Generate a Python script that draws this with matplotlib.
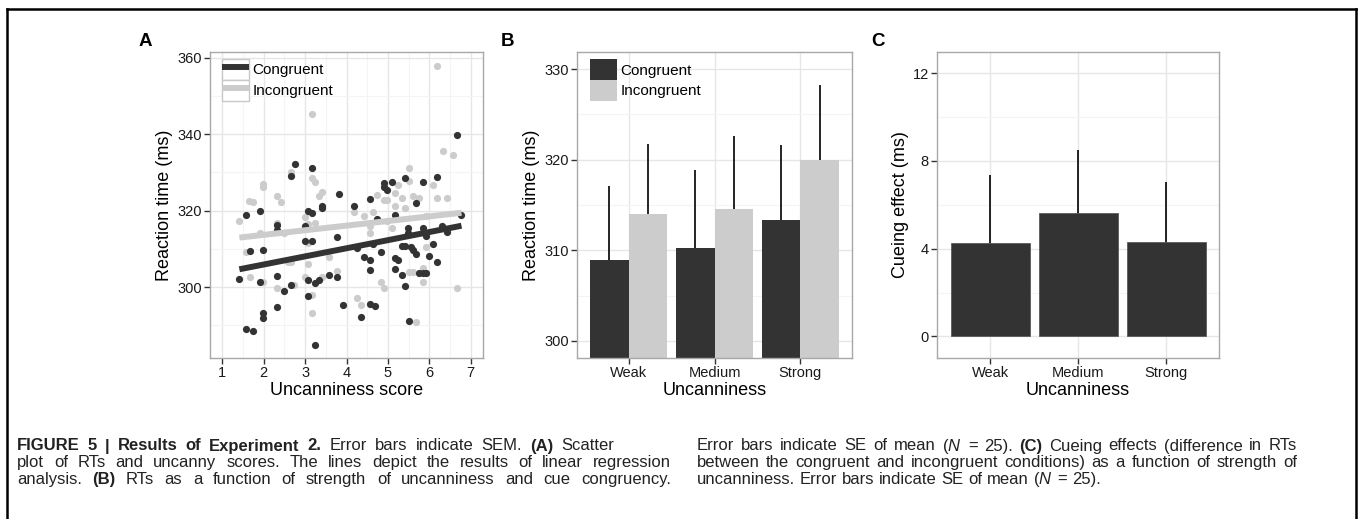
import numpy as np
import matplotlib.pyplot as plt
from matplotlib.patches import Rectangle
from matplotlib.lines import Line2D

plt.rcParams['font.family'] = ['Liberation Sans', 'DejaVu Sans']
plt.rcParams['mathtext.fontset'] = 'custom'
plt.rcParams['mathtext.rm'] = 'Liberation Sans'
plt.rcParams['mathtext.bf'] = 'Liberation Sans:bold'
plt.rcParams['mathtext.it'] = 'Liberation Sans:italic'

# ---------------------------------------------------------------------------
# Data
# ---------------------------------------------------------------------------
# Panel A: uncanniness score vs reaction time
cong_x = [1.41, 1.57, 1.57, 1.75, 1.67, 1.91, 1.91, 1.99, 1.99, 1.99,
          2.33, 2.33, 2.33, 2.33, 2.50, 2.65, 2.67, 2.75, 2.99, 2.99,
          3.08, 3.17, 3.17, 3.08, 3.08, 3.17, 3.24, 3.33, 3.25, 3.41,
          3.41, 3.58, 3.76, 3.76, 3.83, 3.92, 4.17, 4.25, 4.34, 4.42,
          4.58, 4.58, 4.58, 4.58, 4.68, 4.65, 4.74, 4.83, 4.91, 4.91,
          4.99, 5.11, 5.17, 5.17, 5.25, 5.17, 5.33, 5.33, 5.42, 5.42,
          5.42, 5.49, 5.49, 5.57, 5.60, 5.50, 5.67, 5.67, 5.76, 5.84,
          5.84, 5.84, 5.93, 5.92, 6.00, 6.10, 6.18, 6.18, 6.32, 6.42,
          6.66, 6.78]
cong_y = [302.2, 318.8, 289.2, 288.6, 309.6, 319.9, 301.3, 309.8, 293.2, 291.9,
          294.9, 303.0, 316.2, 314.9, 299.1, 300.6, 329.1, 332.3, 315.9, 312.0,
          320.0, 319.5, 312.0, 301.8, 297.6, 331.1, 301.2, 301.9, 284.9, 321.3,
          320.8, 303.2, 313.1, 302.6, 324.3, 295.4, 321.3, 310.2, 292.2, 308.0,
          323.1, 304.5, 307.1, 295.7, 295.1, 311.3, 317.8, 309.1, 327.2, 326.3,
          325.4, 327.5, 319.0, 307.6, 307.0, 304.7, 303.1, 310.9, 310.9, 300.3,
          328.6, 315.5, 314.1, 310.6, 309.8, 291.3, 322.1, 308.6, 303.7, 327.4,
          315.4, 303.7, 303.7, 313.4, 308.2, 311.3, 328.9, 306.7, 315.9, 314.5,
          339.8, 318.9]

incong_x = [1.41, 1.57, 1.65, 1.75, 1.67, 1.91, 1.99, 1.99, 1.99, 2.33,
            2.33, 2.41, 2.33, 2.50, 2.65, 2.67, 2.73, 2.58, 2.67, 2.99,
            2.99, 3.08, 3.08, 3.08, 3.17, 3.17, 3.25, 3.25, 3.33, 3.41,
            3.17, 3.17, 3.41, 3.58, 3.76, 4.25, 4.34, 4.17, 4.42, 4.58,
            4.58, 4.65, 4.74, 4.83, 4.91, 4.91, 4.99, 4.99, 5.09, 5.17,
            5.17, 5.25, 5.33, 5.42, 5.50, 5.50, 5.50, 5.60, 5.60, 5.76,
            5.68, 5.84, 5.84, 5.92, 5.92, 6.10, 6.18, 6.42, 6.18, 6.34,
            6.58, 6.66]
incong_y = [317.4, 309.2, 322.6, 322.4, 302.6, 314.1, 327.0, 326.3, 301.5, 323.8,
            316.7, 322.3, 299.7, 314.3, 330.0, 329.4, 300.6, 306.7, 306.7, 318.3,
            302.6, 316.6, 306.2, 311.5, 345.4, 328.5, 327.4, 316.7, 323.9, 324.9,
            298.0, 293.2, 302.8, 308.0, 304.3, 297.2, 295.4, 319.8, 318.5, 315.9,
            314.1, 319.8, 324.1, 301.5, 299.9, 322.8, 322.8, 317.2, 315.4, 324.6,
            321.3, 326.6, 323.3, 320.8, 331.3, 327.8, 304.1, 304.1, 323.9, 323.3,
            290.8, 301.5, 305.0, 318.5, 310.6, 326.7, 323.2, 323.2, 357.9, 335.5,
            334.6, 299.9]

# Panels B and C
levels = ['Weak', 'Medium', 'Strong']
rt_cong = [308.9, 310.3, 313.3]
rt_cong_se = [8.2, 8.6, 8.3]
rt_incong = [314.0, 314.6, 320.0]
rt_incong_se = [7.7, 8.0, 8.2]
cue_effect = [4.24, 5.62, 4.30]
cue_effect_se = [3.13, 2.89, 2.75]

# Caption text; words starting with '*' are set in bold
caption_left = [
    "*FIGURE *5 *| *Results *of *Experiment *2. Error bars indicate SEM. *(A) Scatter",
    "plot of RTs and uncanny scores. The lines depict the results of linear regression",
    "analysis. *(B) RTs as a function of strength of uncanniness and cue congruency.",
]
caption_right = [
    r"Error bars indicate SE of mean $(\mathit{N}$ = 25). *(C) Cueing effects (difference in RTs",
    "between the congruent and incongruent conditions) as a function of strength of",
    r"uncanniness. Error bars indicate SE of mean $(\mathit{N}$ = 25).",
]

DARK = '#333333'
LIGHT = '#cccccc'
W, H = 1358, 519


def style_axes(ax):
    """ggplot theme_bw look."""
    ax.set_axisbelow(True)
    for s in ax.spines.values():
        s.set_color('#a8a8a8')
        s.set_linewidth(1.0)
    ax.grid(True, which='major', color='#e6e6e6', lw=1.0)
    ax.grid(True, which='minor', color='#f4f4f4', lw=0.8)
    ax.tick_params(which='major', length=4, width=1, color='#333333',
                   labelsize=10.5, labelcolor='#1a1a1a', pad=2)
    ax.tick_params(which='minor', length=0)


fig = plt.figure(figsize=(W / 100, H / 100), dpi=100)
renderer = fig.canvas.get_renderer()


def add_axes_px(left, top, right, bottom):
    return fig.add_axes([left / W, 1 - bottom / H, (right - left) / W, (bottom - top) / H])


# ---------------------------------------------------------------------------
# Panel A
# ---------------------------------------------------------------------------
axA = add_axes_px(210, 52, 483, 358)
style_axes(axA)
axA.scatter(incong_x, incong_y, s=27, color=LIGHT, linewidths=0, zorder=2)
axA.scatter(cong_x, cong_y, s=27, color=DARK, linewidths=0, zorder=2)

# linear regression lines
xs = np.array([min(cong_x + incong_x), max(cong_x + incong_x)])
fit_c = np.polyfit(cong_x, cong_y, 1)
fit_i = np.polyfit(incong_x, incong_y, 1)
axA.plot(xs, np.polyval(fit_c, xs), color=DARK, lw=4.3, solid_capstyle='butt', zorder=3)
axA.plot(xs, np.polyval(fit_i, xs), color=LIGHT, lw=4.3, solid_capstyle='butt', zorder=3)

axA.set_xlim(0.7, 7.3)
axA.set_ylim(281.5, 361.5)
axA.set_xticks(range(1, 8))
axA.set_xticks(np.arange(1.5, 7, 1), minor=True)
axA.set_yticks([300, 320, 340, 360])
axA.set_yticks([290, 310, 330, 350], minor=True)
axA.set_xlabel('Uncanniness score', fontsize=13, labelpad=1)
axA.set_ylabel('Reaction time (ms)', fontsize=13, labelpad=3)

key_box = dict(facecolor='white', edgecolor='#c8c8c8', lw=1.0)
hA = [(Rectangle((0, 0), 1, 1, **key_box), Line2D([], [], color=DARK, lw=4.3, solid_capstyle='butt')),
      (Rectangle((0, 0), 1, 1, **key_box), Line2D([], [], color=LIGHT, lw=4.3, solid_capstyle='butt'))]
axA.legend(hA, ['Congruent', 'Incongruent'], loc='upper left',
           bbox_to_anchor=(12 / 273, 1 - 7 / 306), borderaxespad=0, borderpad=0,
           frameon=False, fontsize=11, handlelength=1.75, handleheight=1.72,
           labelspacing=0, handletextpad=0.25)

# ---------------------------------------------------------------------------
# Panel B
# ---------------------------------------------------------------------------
axB = add_axes_px(577.3, 52, 851.7, 358)
style_axes(axB)
pos = np.arange(1, len(levels) + 1)
bw = 0.45
axB.errorbar(pos - bw / 2, rt_cong, yerr=rt_cong_se, fmt='none', ecolor='black',
             elinewidth=1.2, capsize=0, zorder=1)
axB.errorbar(pos + bw / 2, rt_incong, yerr=rt_incong_se, fmt='none', ecolor='black',
             elinewidth=1.2, capsize=0, zorder=1)
bc = axB.bar(pos - bw / 2, rt_cong, width=bw, color=DARK, zorder=2)
bi = axB.bar(pos + bw / 2, rt_incong, width=bw, color=LIGHT, zorder=2)
axB.set_xlim(0.4, 3.6)
axB.set_ylim(298.1, 331.9)
axB.set_xticks(pos)
axB.set_xticklabels(levels)
axB.set_yticks([300, 310, 320, 330])
axB.set_yticks([305, 315, 325], minor=True)
axB.set_xlabel('Uncanniness', fontsize=13, labelpad=1)
axB.set_ylabel('Reaction time (ms)', fontsize=13, labelpad=3)
axB.legend([bc, bi], ['Congruent', 'Incongruent'], loc='upper left',
           bbox_to_anchor=(12.7 / 274.4, 1 - 7.3 / 306), borderaxespad=0, borderpad=0,
           frameon=False, fontsize=11, handlelength=1.75, handleheight=1.72,
           labelspacing=0, handletextpad=0.25)

# ---------------------------------------------------------------------------
# Panel C
# ---------------------------------------------------------------------------
axC = add_axes_px(937.3, 52, 1219, 358)
style_axes(axC)
axC.errorbar(pos, cue_effect, yerr=cue_effect_se, fmt='none', ecolor='black',
             elinewidth=1.2, capsize=0, zorder=1)
axC.bar(pos, cue_effect, width=0.9, color=DARK, edgecolor='#5a5a5a', lw=0.6, zorder=2)
axC.set_xlim(0.4, 3.6)
axC.set_ylim(-0.98, 12.96)
axC.set_xticks(pos)
axC.set_xticklabels(levels)
axC.set_yticks([0, 4, 8, 12])
axC.set_yticks([2, 6, 10], minor=True)
axC.set_xlabel('Uncanniness', fontsize=13, labelpad=1)
axC.set_ylabel('Cueing effect (ms)', fontsize=13, labelpad=3)

# panel letters
for lab, xp in [('A', 145), ('B', 508), ('C', 878)]:
    fig.text(xp / W, 1 - 41 / H, lab, fontsize=13.5, fontweight='bold',
             ha='center', va='center')

# ---------------------------------------------------------------------------
# Caption (justified like the journal layout)
# ---------------------------------------------------------------------------
CAP_FS = 12.0


def caption_line(line, x0, y_px, x1=None):
    words = line.split(' ')
    arts = []
    for w in words:
        bold = w.startswith('*')
        arts.append(fig.text(0, 1 - y_px / H, w.lstrip('*'), fontsize=CAP_FS,
                             fontweight='bold' if bold else 'normal',
                             color='#222222', va='baseline', ha='left'))
    widths = [a.get_window_extent(renderer).width for a in arts]
    if x1 is None:
        gap = 0.278 * CAP_FS * 100 / 72
    else:
        gap = (x1 - x0 - sum(widths)) / (len(words) - 1)
    x = x0
    for a, wd in zip(arts, widths):
        a.set_x(x / W)
        x += wd + gap


left_ends = [614, 671, 671]
right_ends = [1297, 1297, None]
for i in range(3):
    y_line = 450.5 + i * 16.9
    caption_line(caption_left[i], 17, y_line, left_ends[i])
    caption_line(caption_right[i], 697, y_line, right_ends[i])

# outer frame (open at the bottom)
frame_kw = dict(color='black', lw=1.8, transform=fig.transFigure)
fig.add_artist(Line2D([7 / W, 7 / W], [0, 1 - 9 / H], **frame_kw))
fig.add_artist(Line2D([1356 / W, 1356 / W], [0, 1 - 9 / H], **frame_kw))
fig.add_artist(Line2D([7 / W, 1356 / W], [1 - 9 / H, 1 - 9 / H], **frame_kw))

fig.savefig('out.png', dpi=100)
